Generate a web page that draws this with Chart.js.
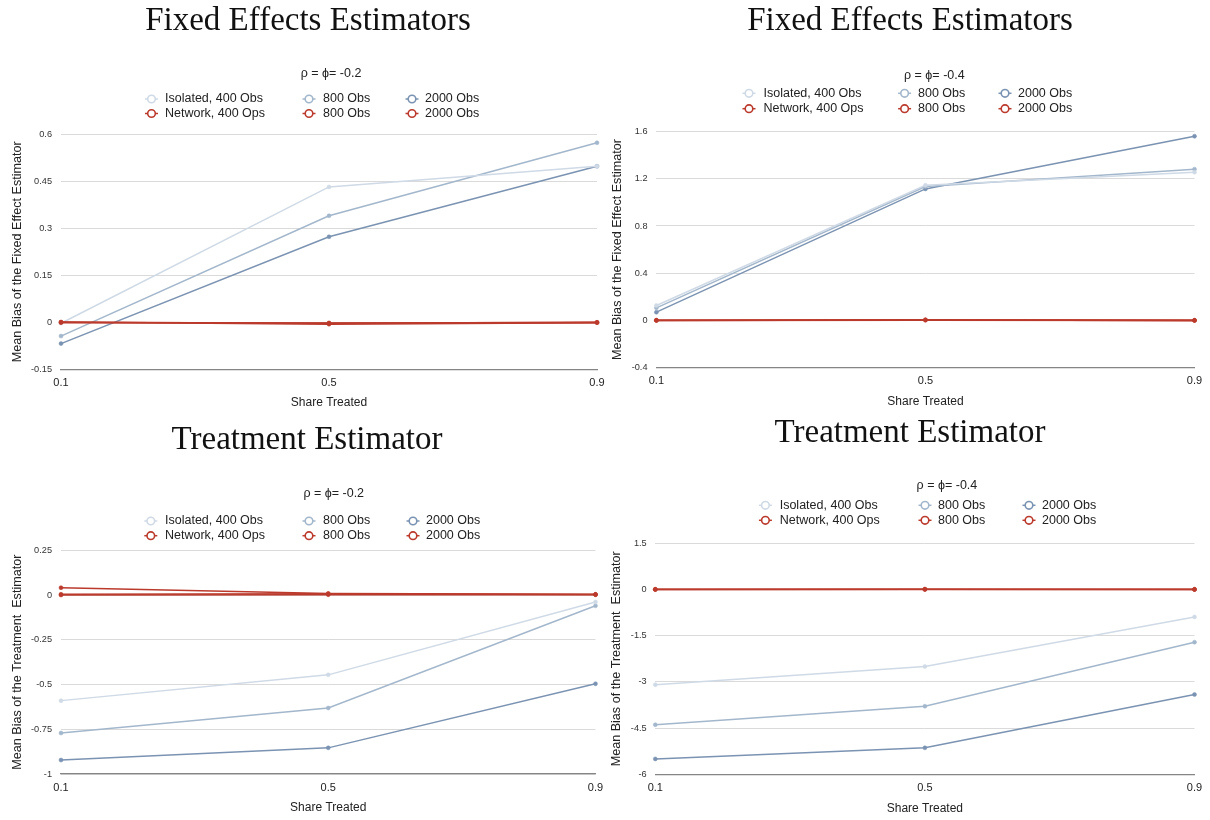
<!DOCTYPE html>
<html>
<head>
<meta charset="utf-8">
<script src="https://cdn.jsdelivr.net/npm/chart.js@4.4.0/dist/chart.umd.min.js"></script>
<style>
  html, body { margin: 0; padding: 0; background: #fff; }
  #wrap { position: relative; width: 1210px; height: 820px; overflow: hidden; }
  #wrap canvas { position: absolute; left: 0; top: 0; }
</style>
</head>
<body>
<div id="wrap">
  <canvas id="feLow" width="1210" height="820"></canvas>
  <canvas id="feHigh" width="1210" height="820"></canvas>
  <canvas id="trLow" width="1210" height="820"></canvas>
  <canvas id="trHigh" width="1210" height="820"></canvas>
</div>
<script>
// ── Data ─────────────────────────────────────────────────────────────────────
const shareTreated = [0.1, 0.5, 0.9];
const isolatedLabels = ['Isolated, 400 Obs', '800 Obs', '2000 Obs'];
const networkLabels = ['Network, 400 Ops', '800 Obs', '2000 Obs'];

// Fixed effects estimator, rho = phi = -0.2
const feLowIso400 = [-0.003, 0.432, 0.498];
const feLowIso800 = [-0.044, 0.340, 0.573];
const feLowIso2000 = [-0.068, 0.273, 0.498];
const feLowNet400 = [0.001, -0.006, -0.001];
const feLowNet800 = [0.000, -0.003, 0.000];
const feLowNet2000 = [-0.001, -0.002, -0.001];
const feLowTicks = [-0.15, 0, 0.15, 0.3, 0.45, 0.6];

// Fixed effects estimator, rho = phi = -0.4
const feHighIso400 = [0.127, 1.145, 1.255];
const feHighIso800 = [0.107, 1.134, 1.281];
const feHighIso2000 = [0.070, 1.114, 1.560];
const feHighNet400 = [0.002, 0.005, 0.001];
const feHighNet800 = [0.001, 0.004, 0.001];
const feHighNet2000 = [0.000, 0.003, 0.000];
const feHighTicks = [-0.4, 0, 0.4, 0.8, 1.2, 1.6];

// Treatment estimator, rho = phi = -0.2
const trLowIso400 = [-0.590, -0.446, -0.039];
const trLowIso800 = [-0.771, -0.631, -0.060];
const trLowIso2000 = [-0.922, -0.854, -0.496];
const trLowNet400 = [0.041, 0.009, 0.004];
const trLowNet800 = [0.004, 0.007, 0.003];
const trLowNet2000 = [0.000, 0.002, 0.002];
const trLowTicks = [-1, -0.75, -0.5, -0.25, 0, 0.25];

// Treatment estimator, rho = phi = -0.4
const trHighIso400 = [-3.09, -2.50, -0.89];
const trHighIso800 = [-4.39, -3.79, -1.71];
const trHighIso2000 = [-5.50, -5.14, -3.41];
const trHighNet400 = [0.01, 0.01, 0.01];
const trHighNet800 = [0.00, 0.01, 0.00];
const trHighNet2000 = [0.00, 0.00, 0.00];
const trHighTicks = [-6, -4.5, -3, -1.5, 0, 1.5];

// ── Styling ──────────────────────────────────────────────────────────────────
const SANS = '"Liberation Sans", Arial, Helvetica, sans-serif';
const isoColors = ['#cfdae6', '#a3b7cc', '#7b93b2'];
const netColor = '#bb3a2c';

Chart.defaults.font.family = SANS;

const panels = [
    {
        id: 'feLow', title: 'Fixed Effects Estimators', sub: 'ρ = ϕ= -0.2',
        yTitle: 'Mean Bias of the Fixed Effect Estimator',
        iso: [feLowIso400, feLowIso800, feLowIso2000],
        net: [feLowNet400, feLowNet800, feLowNet2000],
        ticks: feLowTicks,
        box: { left: 61, right: 597, top: 134.3, bottom: 369.3 },
        yTitleX: 17.4, yLabelRight: 52, xLabelY: 383, xTitleY: 403,
        head: { titleX: 308, titleY: 29.5, subX: 300.7, subY: 74, rows: [99, 113.5], marks: [151.5, 309, 412], texts: [165, 323, 425] }
    },
    {
        id: 'feHigh', title: 'Fixed Effects Estimators', sub: 'ρ = ϕ= -0.4',
        yTitle: 'Mean Bias of the Fixed Effect Estimator',
        iso: [feHighIso400, feHighIso800, feHighIso2000],
        net: [feHighNet400, feHighNet800, feHighNet2000],
        ticks: feHighTicks,
        box: { left: 656.4, right: 1194.5, top: 131.5, bottom: 367.7 },
        yTitleX: 617.8, yLabelRight: 647.5, xLabelY: 381, xTitleY: 401.7,
        head: { titleX: 910, titleY: 29.5, subX: 904, subY: 75.7, rows: [93.3, 108.7], marks: [749, 904.6, 1005], texts: [763.5, 918, 1018] }
    },
    {
        id: 'trLow', title: 'Treatment Estimator', sub: 'ρ = ϕ= -0.2',
        yTitle: 'Mean Bias of the Treatment  Estimator',
        iso: [trLowIso400, trLowIso800, trLowIso2000],
        net: [trLowNet400, trLowNet800, trLowNet2000],
        ticks: trLowTicks,
        box: { left: 61, right: 595.5, top: 550.3, bottom: 774 },
        yTitleX: 17.4, yLabelRight: 52, xLabelY: 787.7, xTitleY: 808,
        head: { titleX: 307, titleY: 448.5, subX: 303.4, subY: 494, rows: [521, 535.7], marks: [150.8, 309, 413], texts: [165, 323, 426] }
    },
    {
        id: 'trHigh', title: 'Treatment Estimator', sub: 'ρ = ϕ= -0.4',
        yTitle: 'Mean Bias of the Treatment  Estimator',
        iso: [trHighIso400, trHighIso800, trHighIso2000],
        net: [trHighNet400, trHighNet800, trHighNet2000],
        ticks: trHighTicks,
        box: { left: 655.3, right: 1194.5, top: 543.3, bottom: 774.3 },
        yTitleX: 616.6, yLabelRight: 646.7, xLabelY: 787.7, xTitleY: 808.3,
        head: { titleX: 910, titleY: 441.5, subX: 916.6, subY: 485.7, rows: [505.3, 520.3], marks: [765.4, 925, 1029], texts: [779.7, 938, 1042] }
    }
];

// ── Title, subtitle and 3-column legend drawn on the canvas ─────────────────
const panelHeader = {
    id: 'panelHeader',
    afterDraw(chart, args, opts) {
        const ctx = chart.ctx;
        ctx.save();
        ctx.fillStyle = '#111';
        ctx.font = '33px "Liberation Serif", "Times New Roman", serif';
        ctx.textAlign = 'center';
        ctx.textBaseline = 'alphabetic';
        ctx.fillText(opts.title, opts.titleX, opts.titleY);

        ctx.font = '12.5px ' + SANS;
        ctx.textAlign = 'left';
        ctx.textBaseline = 'middle';
        ctx.fillStyle = '#222';
        ctx.fillText(opts.sub, opts.subX, opts.subY);

        chart.data.datasets.forEach(ds => {
            const [row, col] = ds.legendSlot;
            const x = opts.marks[col], y = opts.rows[row];
            ctx.strokeStyle = ds.borderColor;
            ctx.lineWidth = 1.5;
            ctx.beginPath(); ctx.moveTo(x - 6.5, y); ctx.lineTo(x + 6.5, y); ctx.stroke();
            ctx.beginPath(); ctx.arc(x, y, 3.8, 0, Math.PI * 2);
            ctx.fillStyle = '#fff'; ctx.fill();
            ctx.lineWidth = 1.6; ctx.stroke();
            ctx.fillStyle = '#222';
            ctx.fillText(ds.label, opts.texts[col], y);
        });
        ctx.restore();
    }
};

function makeDataset(label, values, color, width, slot) {
    return {
        label,
        data: values.map((y, i) => ({ x: shareTreated[i], y })),
        borderColor: color,
        backgroundColor: color,
        pointBackgroundColor: color,
        pointBorderColor: color,
        borderWidth: width,
        pointRadius: 2,
        pointBorderWidth: 0.5,
        tension: 0,
        clip: false,
        legendSlot: slot
    };
}

panels.forEach(p => {
    // network series first so they are painted on top
    const datasets = [
        ...p.net.map((v, i) => makeDataset(networkLabels[i], v, netColor, 1.6, [1, i])),
        ...p.iso.map((v, i) => makeDataset(isolatedLabels[i], v, isoColors[i], 1.5, [0, i]))
    ];
    const yHalf = 12.6 * 1.2 / 2;
    new Chart(document.getElementById(p.id), {
        type: 'line',
        data: { datasets },
        plugins: [panelHeader],
        options: {
            responsive: false,
            devicePixelRatio: 1,
            animation: false,
            layout: {
                padding: {
                    left: p.yTitleX - yHalf,
                    top: p.box.top,
                    right: 1210 - p.box.right,
                    bottom: 820 - p.xTitleY - 7.2
                }
            },
            plugins: {
                legend: { display: false },
                title: { display: false },
                tooltip: { enabled: false },
                panelHeader: { title: p.title, sub: p.sub, ...p.head }
            },
            scales: {
                x: {
                    type: 'linear', min: 0.1, max: 0.9,
                    afterBuildTicks: s => { s.ticks = shareTreated.map(v => ({ value: v })); },
                    afterFit: s => { s.height = p.xTitleY + 7.2 - p.box.bottom; },
                    ticks: {
                        padding: p.xLabelY - p.box.bottom - 6.6,
                        color: '#222', font: { size: 11 }, maxRotation: 0,
                        callback: v => String(v)
                    },
                    grid: { display: false, drawTicks: false },
                    border: { display: true, color: '#858585', width: 1.3 },
                    title: { display: true, text: 'Share Treated', color: '#222', font: { size: 12, lineHeight: 1.2 }, padding: 0 }
                },
                y: {
                    min: p.ticks[0], max: p.ticks[p.ticks.length - 1],
                    afterBuildTicks: s => { s.ticks = p.ticks.map(v => ({ value: v })); },
                    afterFit: s => { s.width = p.box.left - (p.yTitleX - yHalf); },
                    ticks: {
                        padding: p.box.left - p.yLabelRight,
                        color: '#333', font: { size: 9.2 },
                        callback: v => String(v)
                    },
                    grid: { color: '#dadada', drawTicks: false },
                    border: { display: false },
                    title: { display: true, text: p.yTitle, color: '#222', font: { size: 12.6, lineHeight: 1.2 }, padding: 0 }
                }
            }
        }
    });
});
</script>
</body>
</html>
